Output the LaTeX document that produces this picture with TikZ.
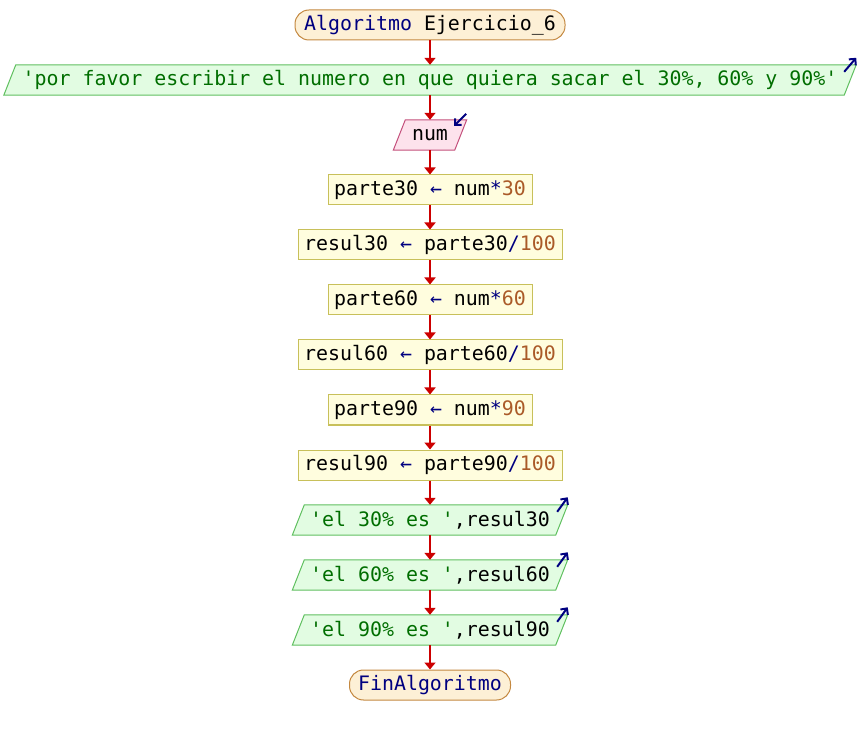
\documentclass[tikz,border=0pt]{standalone}
\usepackage{fontspec}
\setmonofont{DejaVu Sans Mono}
\usetikzlibrary{arrows.meta,calc}
\pgfdeclarelayer{bg}
\pgfsetlayers{bg,main}

\definecolor{kw}{RGB}{0,0,128}
\definecolor{strg}{RGB}{0,110,0}
\definecolor{numc}{RGB}{170,90,40}
\definecolor{termfill}{RGB}{253,240,214}
\definecolor{termline}{RGB}{196,136,64}
\definecolor{iofill}{RGB}{226,252,226}
\definecolor{ioline}{RGB}{96,192,96}
\definecolor{infill}{RGB}{253,226,236}
\definecolor{inline}{RGB}{196,80,124}
\definecolor{procfill}{RGB}{255,253,222}
\definecolor{procline}{RGB}{200,192,90}
\definecolor{flowred}{RGB}{204,0,0}

\newcommand{\K}[1]{\textcolor{kw}{#1}}
\newcommand{\Str}[1]{\textcolor{strg}{#1}}
\newcommand{\Nm}[1]{\textcolor{numc}{#1}}

\tikzset{
  base/.style={minimum height=30pt, inner sep=0pt, anchor=center,
    font=\ttfamily\fontsize{19.9pt}{22pt}\selectfont},
  term/.style={base, draw=termline, fill=termfill, line width=1pt,
    rounded corners=14pt},
  proc/.style={base, draw=procline, fill=procfill, line width=1pt},
  iobox/.style={base},
  outshape/.style={draw=ioline, fill=iofill, line width=1pt},
  inshape/.style={draw=inline, fill=infill, line width=1pt},
  flow/.style={draw=flowred, line width=2pt,
    -{Triangle[length=7pt,width=11pt]}},
  ioicon/.style={draw=kw, line width=2pt,
    -{Straight Barb[length=4.6pt,width=9.2pt]}},
}

\begin{document}
\begin{tikzpicture}[x=1pt,y=-1pt]
  \useasboundingbox (0,0) rectangle (860,735);

  % terminals, statements and input/output steps
  \node[term, minimum width=270pt] (start) at (430,25) {\K{Algoritmo} Ejercicio\_6};
  \node[iobox, minimum width=840pt] (ask) at (430,80)
    {\Str{'por favor escribir el numero en que quiera sacar el 30\%, 60\% y 90\%'}};
  \node[iobox, minimum width=61pt] (num) at (430,135) {num};
  \node[proc, minimum width=204pt] (p30) at (430,190) {parte30 \K{←} num\K{*}\Nm{30}};
  \node[proc, minimum width=264pt] (r30) at (430,245) {resul30 \K{←} parte30\K{/}\Nm{100}};
  \node[proc, minimum width=204pt] (p60) at (430,300) {parte60 \K{←} num\K{*}\Nm{60}};
  \node[proc, minimum width=264pt] (r60) at (430,355) {resul60 \K{←} parte60\K{/}\Nm{100}};
  \node[proc, minimum width=204pt] (p90) at (430,410) {parte90 \K{←} num\K{*}\Nm{90}};
  \node[proc, minimum width=264pt] (r90) at (430,465) {resul90 \K{←} parte90\K{/}\Nm{100}};
  \node[iobox, minimum width=263pt] (o30) at (430,520) {\Str{'el 30\% es '},resul30};
  \node[iobox, minimum width=263pt] (o60) at (430,575) {\Str{'el 60\% es '},resul60};
  \node[iobox, minimum width=263pt] (o90) at (430,630) {\Str{'el 90\% es '},resul90};
  \node[term, minimum width=161pt] (fin) at (430,685) {\K{FinAlgoritmo}};

  % slanted outlines behind the input/output texts
  \begin{pgfonlayer}{bg}
    \foreach \n/\st in {ask/outshape, num/inshape, o30/outshape, o60/outshape, o90/outshape}{
      \path[\st] ($(\n.north west)+(6,0)$) -- ($(\n.north east)+(6,0)$)
        -- ($(\n.south east)-(6,0)$) -- ($(\n.south west)-(6,0)$) -- cycle;
    }
  \end{pgfonlayer}

  % direction marks of the input/output steps
  \draw[ioicon] ($(ask.north east)+(-6,7)$) -- ($(ask.north east)+(6,-7)$);
  \draw[ioicon] ($(num.north east)+(5.5,-6)$) -- ($(num.north east)+(-6.5,6)$);
  \foreach \n in {o30,o60,o90}
    \draw[ioicon] ($(\n.north east)+(-4.5,7)$) -- ($(\n.north east)+(6,-7.5)$);

  % flow connectors
  \foreach \a/\b in {start/ask, ask/num, num/p30, p30/r30, r30/p60, p60/r60,
                     r60/p90, p90/r90, r90/o30, o30/o60, o60/o90, o90/fin}
    \draw[flow] (\a.south) -- (\b.north);
\end{tikzpicture}
\end{document}
